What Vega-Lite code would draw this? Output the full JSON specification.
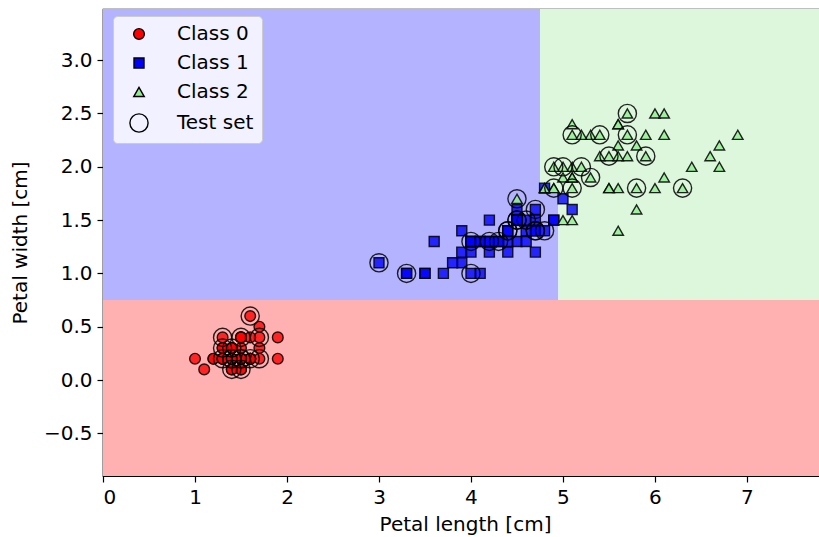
{
 "$schema": "https://vega.github.io/schema/vega-lite/v6.json",
 "width": 716, "height": 467,
 "autosize": {"type": "none"},
 "padding": {"left": 103, "top": 9, "right": 0, "bottom": 61},
 "config": {
  "font": "DejaVu Sans",
  "view": {"stroke": "black", "strokeWidth": 1.2},
  "axis": {"domainColor": "black", "domainWidth": 1.2, "tickColor": "black", "tickSize": 6, "tickWidth": 1.2, "labelColor": "black", "labelFontSize": 20, "titleFontSize": 20, "titleFontWeight": "normal", "titleColor": "black", "grid": false, "labelPadding": 5, "labelOverlap": false}
 },
 "datasets": {
  "regions": [
   {"x1": 0, "x2": 7.9, "y1": -0.9, "y2": 0.75, "region": "0"},
   {"x1": 0, "x2": 4.75, "y1": 0.75, "y2": 3.48, "region": "1"},
   {"x1": 0, "x2": 4.95, "y1": 0.75, "y2": 1.75, "region": "1"},
   {"x1": 4.75, "x2": 7.9, "y1": 1.75, "y2": 3.48, "region": "2"},
   {"x1": 4.95, "x2": 7.9, "y1": 0.75, "y2": 3.48, "region": "2"}
  ],
  "points": [
   {"x":1.4,"y":0.2,"c":"Class 0"},{"x":1.4,"y":0.2,"c":"Class 0"},{"x":1.3,"y":0.2,"c":"Class 0"},{"x":1.5,"y":0.2,"c":"Class 0"},{"x":1.4,"y":0.2,"c":"Class 0"},
   {"x":1.7,"y":0.4,"c":"Class 0"},{"x":1.4,"y":0.3,"c":"Class 0"},{"x":1.5,"y":0.2,"c":"Class 0"},{"x":1.4,"y":0.2,"c":"Class 0"},{"x":1.5,"y":0.1,"c":"Class 0"},
   {"x":1.5,"y":0.2,"c":"Class 0"},{"x":1.6,"y":0.2,"c":"Class 0"},{"x":1.4,"y":0.1,"c":"Class 0"},{"x":1.1,"y":0.1,"c":"Class 0"},{"x":1.2,"y":0.2,"c":"Class 0"},
   {"x":1.5,"y":0.4,"c":"Class 0"},{"x":1.3,"y":0.4,"c":"Class 0"},{"x":1.4,"y":0.3,"c":"Class 0"},{"x":1.7,"y":0.3,"c":"Class 0"},{"x":1.5,"y":0.3,"c":"Class 0"},
   {"x":1.7,"y":0.2,"c":"Class 0"},{"x":1.5,"y":0.4,"c":"Class 0"},{"x":1.0,"y":0.2,"c":"Class 0"},{"x":1.7,"y":0.5,"c":"Class 0"},{"x":1.9,"y":0.2,"c":"Class 0"},
   {"x":1.6,"y":0.2,"c":"Class 0"},{"x":1.6,"y":0.4,"c":"Class 0"},{"x":1.5,"y":0.2,"c":"Class 0"},{"x":1.4,"y":0.2,"c":"Class 0"},{"x":1.6,"y":0.2,"c":"Class 0"},
   {"x":1.6,"y":0.2,"c":"Class 0"},{"x":1.5,"y":0.4,"c":"Class 0"},{"x":1.5,"y":0.1,"c":"Class 0"},{"x":1.4,"y":0.2,"c":"Class 0"},{"x":1.5,"y":0.2,"c":"Class 0"},
   {"x":1.2,"y":0.2,"c":"Class 0"},{"x":1.3,"y":0.2,"c":"Class 0"},{"x":1.4,"y":0.1,"c":"Class 0"},{"x":1.3,"y":0.2,"c":"Class 0"},{"x":1.5,"y":0.2,"c":"Class 0"},
   {"x":1.3,"y":0.3,"c":"Class 0"},{"x":1.3,"y":0.3,"c":"Class 0"},{"x":1.3,"y":0.2,"c":"Class 0"},{"x":1.6,"y":0.6,"c":"Class 0"},{"x":1.9,"y":0.4,"c":"Class 0"},
   {"x":1.4,"y":0.3,"c":"Class 0"},{"x":1.6,"y":0.2,"c":"Class 0"},{"x":1.4,"y":0.2,"c":"Class 0"},{"x":1.5,"y":0.2,"c":"Class 0"},{"x":1.4,"y":0.2,"c":"Class 0"},
   {"x":4.7,"y":1.4,"c":"Class 1"},{"x":4.5,"y":1.5,"c":"Class 1"},{"x":4.9,"y":1.5,"c":"Class 1"},{"x":4.0,"y":1.3,"c":"Class 1"},{"x":4.6,"y":1.5,"c":"Class 1"},
   {"x":4.5,"y":1.3,"c":"Class 1"},{"x":4.7,"y":1.6,"c":"Class 1"},{"x":3.3,"y":1.0,"c":"Class 1"},{"x":4.6,"y":1.3,"c":"Class 1"},{"x":3.9,"y":1.4,"c":"Class 1"},
   {"x":3.5,"y":1.0,"c":"Class 1"},{"x":4.2,"y":1.5,"c":"Class 1"},{"x":4.0,"y":1.0,"c":"Class 1"},{"x":4.7,"y":1.4,"c":"Class 1"},{"x":3.6,"y":1.3,"c":"Class 1"},
   {"x":4.4,"y":1.4,"c":"Class 1"},{"x":4.5,"y":1.5,"c":"Class 1"},{"x":4.1,"y":1.0,"c":"Class 1"},{"x":4.5,"y":1.5,"c":"Class 1"},{"x":3.9,"y":1.1,"c":"Class 1"},
   {"x":4.8,"y":1.8,"c":"Class 1"},{"x":4.0,"y":1.3,"c":"Class 1"},{"x":4.9,"y":1.5,"c":"Class 1"},{"x":4.7,"y":1.2,"c":"Class 1"},{"x":4.3,"y":1.3,"c":"Class 1"},
   {"x":4.4,"y":1.4,"c":"Class 1"},{"x":4.8,"y":1.4,"c":"Class 1"},{"x":5.0,"y":1.7,"c":"Class 1"},{"x":4.5,"y":1.5,"c":"Class 1"},{"x":3.5,"y":1.0,"c":"Class 1"},
   {"x":3.8,"y":1.1,"c":"Class 1"},{"x":3.7,"y":1.0,"c":"Class 1"},{"x":3.9,"y":1.2,"c":"Class 1"},{"x":5.1,"y":1.6,"c":"Class 1"},{"x":4.5,"y":1.5,"c":"Class 1"},
   {"x":4.5,"y":1.6,"c":"Class 1"},{"x":4.7,"y":1.5,"c":"Class 1"},{"x":4.4,"y":1.3,"c":"Class 1"},{"x":4.1,"y":1.3,"c":"Class 1"},{"x":4.0,"y":1.3,"c":"Class 1"},
   {"x":4.4,"y":1.2,"c":"Class 1"},{"x":4.6,"y":1.4,"c":"Class 1"},{"x":4.0,"y":1.2,"c":"Class 1"},{"x":3.3,"y":1.0,"c":"Class 1"},{"x":4.2,"y":1.3,"c":"Class 1"},
   {"x":4.2,"y":1.2,"c":"Class 1"},{"x":4.2,"y":1.3,"c":"Class 1"},{"x":4.3,"y":1.3,"c":"Class 1"},{"x":3.0,"y":1.1,"c":"Class 1"},{"x":4.1,"y":1.3,"c":"Class 1"},
   {"x":6.0,"y":2.5,"c":"Class 2"},{"x":5.1,"y":1.9,"c":"Class 2"},{"x":5.9,"y":2.1,"c":"Class 2"},{"x":5.6,"y":1.8,"c":"Class 2"},{"x":5.8,"y":2.2,"c":"Class 2"},
   {"x":6.6,"y":2.1,"c":"Class 2"},{"x":4.5,"y":1.7,"c":"Class 2"},{"x":6.3,"y":1.8,"c":"Class 2"},{"x":5.8,"y":1.8,"c":"Class 2"},{"x":6.1,"y":2.5,"c":"Class 2"},
   {"x":5.1,"y":2.0,"c":"Class 2"},{"x":5.3,"y":1.9,"c":"Class 2"},{"x":5.5,"y":2.1,"c":"Class 2"},{"x":5.0,"y":2.0,"c":"Class 2"},{"x":5.1,"y":2.4,"c":"Class 2"},
   {"x":5.3,"y":2.3,"c":"Class 2"},{"x":5.5,"y":1.8,"c":"Class 2"},{"x":6.7,"y":2.2,"c":"Class 2"},{"x":6.9,"y":2.3,"c":"Class 2"},{"x":5.0,"y":1.5,"c":"Class 2"},
   {"x":5.7,"y":2.3,"c":"Class 2"},{"x":4.9,"y":2.0,"c":"Class 2"},{"x":6.7,"y":2.0,"c":"Class 2"},{"x":4.9,"y":1.8,"c":"Class 2"},{"x":5.7,"y":2.1,"c":"Class 2"},
   {"x":6.0,"y":1.8,"c":"Class 2"},{"x":4.8,"y":1.8,"c":"Class 2"},{"x":4.9,"y":1.8,"c":"Class 2"},{"x":5.6,"y":2.1,"c":"Class 2"},{"x":5.8,"y":1.6,"c":"Class 2"},
   {"x":6.1,"y":1.9,"c":"Class 2"},{"x":6.4,"y":2.0,"c":"Class 2"},{"x":5.6,"y":2.2,"c":"Class 2"},{"x":5.1,"y":1.5,"c":"Class 2"},{"x":5.6,"y":1.4,"c":"Class 2"},
   {"x":6.1,"y":2.3,"c":"Class 2"},{"x":5.6,"y":2.4,"c":"Class 2"},{"x":5.5,"y":1.8,"c":"Class 2"},{"x":4.8,"y":1.8,"c":"Class 2"},{"x":5.4,"y":2.1,"c":"Class 2"},
   {"x":5.6,"y":2.4,"c":"Class 2"},{"x":5.1,"y":2.3,"c":"Class 2"},{"x":5.1,"y":1.9,"c":"Class 2"},{"x":5.9,"y":2.3,"c":"Class 2"},{"x":5.7,"y":2.5,"c":"Class 2"},
   {"x":5.2,"y":2.3,"c":"Class 2"},{"x":5.0,"y":1.9,"c":"Class 2"},{"x":5.2,"y":2.0,"c":"Class 2"},{"x":5.4,"y":2.3,"c":"Class 2"},{"x":5.1,"y":1.8,"c":"Class 2"},
   {"x":1.6,"y":0.6,"c":"Test set"},{"x":1.3,"y":0.4,"c":"Test set"},{"x":1.5,"y":0.4,"c":"Test set"},{"x":1.7,"y":0.4,"c":"Test set"},{"x":1.4,"y":0.3,"c":"Test set"},
   {"x":1.3,"y":0.3,"c":"Test set"},{"x":1.4,"y":0.1,"c":"Test set"},{"x":1.5,"y":0.1,"c":"Test set"},{"x":1.4,"y":0.2,"c":"Test set"},{"x":1.4,"y":0.2,"c":"Test set"},
   {"x":1.5,"y":0.2,"c":"Test set"},{"x":1.5,"y":0.2,"c":"Test set"},{"x":1.3,"y":0.2,"c":"Test set"},{"x":1.6,"y":0.2,"c":"Test set"},{"x":1.7,"y":0.2,"c":"Test set"},
   {"x":3.0,"y":1.1,"c":"Test set"},{"x":3.3,"y":1.0,"c":"Test set"},{"x":4.0,"y":1.0,"c":"Test set"},{"x":4.0,"y":1.3,"c":"Test set"},{"x":4.2,"y":1.3,"c":"Test set"},
   {"x":4.3,"y":1.3,"c":"Test set"},{"x":4.4,"y":1.4,"c":"Test set"},{"x":4.5,"y":1.5,"c":"Test set"},{"x":4.6,"y":1.5,"c":"Test set"},{"x":4.7,"y":1.6,"c":"Test set"},
   {"x":4.7,"y":1.4,"c":"Test set"},{"x":4.8,"y":1.4,"c":"Test set"},{"x":4.5,"y":1.5,"c":"Test set"},{"x":4.7,"y":1.4,"c":"Test set"},{"x":4.4,"y":1.4,"c":"Test set"},
   {"x":5.7,"y":2.5,"c":"Test set"},{"x":5.1,"y":2.3,"c":"Test set"},{"x":5.4,"y":2.3,"c":"Test set"},{"x":5.7,"y":2.3,"c":"Test set"},{"x":5.5,"y":2.1,"c":"Test set"},
   {"x":5.9,"y":2.1,"c":"Test set"},{"x":4.9,"y":2.0,"c":"Test set"},{"x":5.0,"y":2.0,"c":"Test set"},{"x":5.2,"y":2.0,"c":"Test set"},{"x":5.3,"y":1.9,"c":"Test set"},
   {"x":4.9,"y":1.8,"c":"Test set"},{"x":5.1,"y":1.8,"c":"Test set"},{"x":5.8,"y":1.8,"c":"Test set"},{"x":6.3,"y":1.8,"c":"Test set"},{"x":4.5,"y":1.7,"c":"Test set"}
  ]
 },
 "layer": [
  {
   "data": {"name": "regions"},
   "mark": {"type": "rect", "clip": true},
   "encoding": {
    "x": {"field": "x1", "type": "quantitative", "scale": {"domain": [0, 7.783], "nice": false, "zero": false},
          "axis": {"values": [0,1,2,3,4,5,6,7], "format": "d", "title": "Petal length [cm]", "titleX": 362, "titlePadding": 7}},
    "x2": {"field": "x2"},
    "y": {"field": "y1", "type": "quantitative", "scale": {"domain": [-0.9, 3.48], "nice": false, "zero": false},
          "axis": {"values": [-0.5,0,0.5,1,1.5,2,2.5,3], "format": ".1f", "title": "Petal width [cm]", "titlePadding": 13}},
    "y2": {"field": "y2"},
    "color": {"field": "region", "type": "nominal", "scale": {"domain": ["0","1","2"], "range": ["#ffb0b0", "#b3b3ff", "#ddf7dd"]}, "legend": null}
   }
  },
  {
   "data": {"name": "points"},
   "mark": {"type": "point", "filled": true, "stroke": "black", "strokeWidth": 1.4, "fillOpacity": 0.8, "strokeOpacity": 0.85, "clip": true},
   "encoding": {
    "x": {"field": "x", "type": "quantitative"},
    "y": {"field": "y", "type": "quantitative"},
    "fill": {"field": "c", "type": "nominal",
             "scale": {"domain": ["Class 0","Class 1","Class 2","Test set"], "range": ["red","blue","lightgreen","transparent"]},
             "legend": {"orient": "none", "legendX": 10, "legendY": 7, "title": null, "fillColor": "rgba(255,255,255,0.82)", "strokeColor": "#cccccc", "cornerRadius": 4, "padding": 8, "labelFontSize": 20, "labelColor": "black", "rowPadding": 9, "labelOffset": 28, "symbolStrokeColor": "black", "symbolStrokeWidth": 1.4, "symbolOffset": 8}},
    "shape": {"field": "c", "type": "nominal", "scale": {"domain": ["Class 0","Class 1","Class 2","Test set"], "range": ["circle","square","triangle-up","circle"]}},
    "size": {"field": "c", "type": "ordinal", "scale": {"type": "ordinal", "domain": ["Class 0","Class 1","Class 2","Test set"], "range": [115,100,110,330]}}
   }
  }
 ]
}
